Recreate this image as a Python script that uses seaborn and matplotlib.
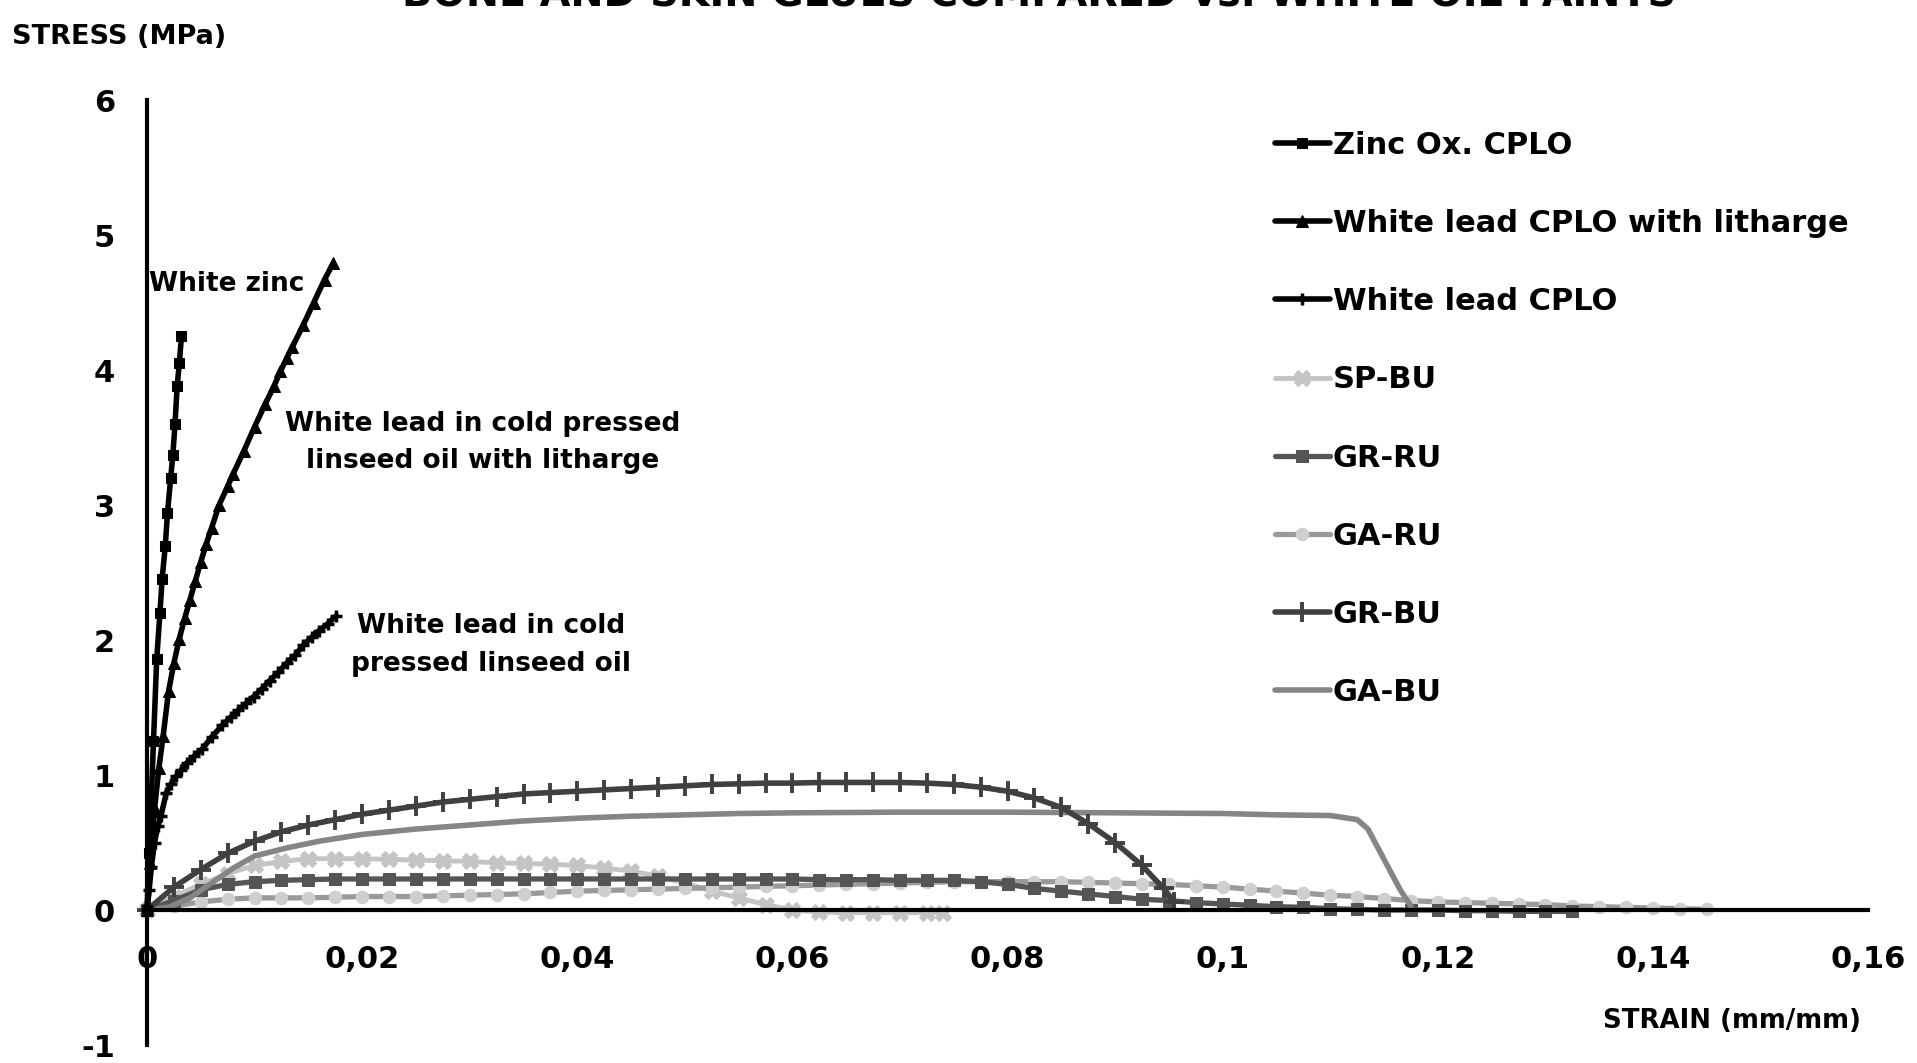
import numpy as np
import pandas as pd
import matplotlib
matplotlib.use("Agg")
import matplotlib.pyplot as plt
import seaborn as sns

# ---- data: strain (mm/mm) and stress (MPa) ----
zinc_strain = [0, 0.0002, 0.0004, 0.0006, 0.0009, 0.0012, 0.0014, 0.0017, 0.0019,
               0.0022, 0.0024, 0.0026, 0.0028, 0.0030, 0.0032]
zinc_stress = [0, 0.42, 0.84, 1.25, 1.86, 2.20, 2.45, 2.70, 2.94,
               3.20, 3.37, 3.60, 3.88, 4.05, 4.25]

lith_strain = [0, 0.0003, 0.0007, 0.0011, 0.0015, 0.002, 0.0025, 0.003, 0.0035, 0.004,
               0.0045, 0.005, 0.0055, 0.006, 0.0067, 0.0075, 0.008, 0.009, 0.010, 0.011,
               0.0118, 0.0124, 0.013, 0.0135, 0.0145, 0.0155, 0.0165, 0.0173]
lith_stress = [0, 0.35, 0.75, 1.05, 1.29, 1.62, 1.83, 2.01, 2.16, 2.30,
               2.44, 2.58, 2.71, 2.83, 3.00, 3.14, 3.23, 3.40, 3.58, 3.75,
               3.88, 3.99, 4.09, 4.17, 4.33, 4.50, 4.67, 4.79]

wl_strain = [0, 0.0002, 0.0004, 0.0007, 0.0010, 0.0013, 0.0018, 0.0022, 0.0027, 0.0032,
             0.0037, 0.0044, 0.0051, 0.0060, 0.0070, 0.0078, 0.0085, 0.0092, 0.0099, 0.0107,
             0.0114, 0.0122, 0.0130, 0.0138, 0.0145, 0.0153, 0.0160, 0.0168, 0.0176]
wl_stress = [0, 0.15, 0.32, 0.50, 0.62, 0.70, 0.87, 0.93, 0.99, 1.04,
             1.09, 1.14, 1.19, 1.28, 1.37, 1.43, 1.48, 1.53, 1.58, 1.64,
             1.70, 1.76, 1.83, 1.89, 1.96, 2.02, 2.07, 2.12, 2.18]

spbu_strain = [0, 0.0025, 0.005, 0.0075, 0.010, 0.0125, 0.015, 0.0175, 0.020, 0.0225,
               0.025, 0.0275, 0.030, 0.0325, 0.035, 0.0375, 0.040, 0.0425, 0.045, 0.0475,
               0.050, 0.0525, 0.055, 0.0575, 0.060, 0.0625, 0.065, 0.0675, 0.070, 0.0725, 0.074]
spbu_stress = [0, 0.10, 0.19, 0.27, 0.33, 0.36, 0.38, 0.38, 0.38, 0.375,
               0.37, 0.365, 0.36, 0.35, 0.345, 0.34, 0.33, 0.31, 0.29, 0.25,
               0.20, 0.14, 0.09, 0.04, 0.00, -0.015, -0.02, -0.02, -0.02, -0.02, -0.02]

grru_strain = [0, 0.0025, 0.005, 0.0075, 0.010, 0.0125, 0.015, 0.0175, 0.020, 0.0225,
               0.025, 0.0275, 0.030, 0.0325, 0.035, 0.0375, 0.040, 0.0425, 0.045, 0.0475,
               0.050, 0.0525, 0.055, 0.0575, 0.060, 0.0625, 0.065, 0.0675, 0.070, 0.0725,
               0.075, 0.0775, 0.080, 0.0825, 0.085, 0.0875, 0.090, 0.0925, 0.095, 0.0975,
               0.100, 0.1025, 0.105, 0.1075, 0.110, 0.1125, 0.115, 0.1175, 0.120, 0.1225,
               0.125, 0.1275, 0.130, 0.1325]
grru_stress = [0, 0.07, 0.15, 0.19, 0.21, 0.22, 0.225, 0.23, 0.23, 0.23,
               0.23, 0.23, 0.23, 0.23, 0.23, 0.23, 0.23, 0.23, 0.23, 0.23,
               0.23, 0.23, 0.23, 0.23, 0.23, 0.225, 0.225, 0.225, 0.22, 0.22,
               0.22, 0.21, 0.19, 0.16, 0.14, 0.12, 0.10, 0.08, 0.07, 0.055,
               0.045, 0.035, 0.025, 0.02, 0.01, 0.005, 0.0, 0.0, 0.0, -0.005,
               -0.005, -0.01, -0.01, -0.01]

garu_strain = [0, 0.0025, 0.005, 0.0075, 0.010, 0.0125, 0.015, 0.0175, 0.020, 0.0225,
               0.025, 0.0275, 0.030, 0.0325, 0.035, 0.0375, 0.040, 0.0425, 0.045, 0.0475,
               0.050, 0.0525, 0.055, 0.0575, 0.060, 0.0625, 0.065, 0.0675, 0.070, 0.0725,
               0.075, 0.0775, 0.080, 0.0825, 0.085, 0.0875, 0.090, 0.0925, 0.095, 0.0975,
               0.100, 0.1025, 0.105, 0.1075, 0.110, 0.1125, 0.115, 0.1175, 0.120, 0.1225,
               0.125, 0.1275, 0.130, 0.1325, 0.135, 0.1375, 0.140, 0.1425, 0.145]
garu_stress = [0, 0.03, 0.06, 0.08, 0.09, 0.09, 0.09, 0.095, 0.10, 0.10,
               0.10, 0.105, 0.11, 0.115, 0.12, 0.13, 0.14, 0.145, 0.15, 0.155,
               0.16, 0.165, 0.17, 0.175, 0.18, 0.185, 0.19, 0.195, 0.20, 0.205,
               0.21, 0.21, 0.21, 0.21, 0.21, 0.205, 0.20, 0.195, 0.19, 0.18,
               0.17, 0.155, 0.14, 0.125, 0.11, 0.10, 0.085, 0.07, 0.06, 0.055,
               0.05, 0.045, 0.04, 0.03, 0.025, 0.02, 0.015, 0.01, 0.005]

grbu_strain = [0, 0.0025, 0.005, 0.0075, 0.010, 0.0125, 0.015, 0.0175, 0.020, 0.0225,
               0.025, 0.0275, 0.030, 0.0325, 0.035, 0.0375, 0.040, 0.0425, 0.045, 0.0475,
               0.050, 0.0525, 0.055, 0.0575, 0.060, 0.0625, 0.065, 0.0675, 0.070, 0.0725,
               0.075, 0.0775, 0.080, 0.0825, 0.085, 0.0875, 0.090, 0.0925, 0.0945, 0.0955]
grbu_stress = [0, 0.17, 0.30, 0.42, 0.51, 0.58, 0.63, 0.67, 0.71, 0.74,
               0.77, 0.80, 0.82, 0.84, 0.86, 0.87, 0.88, 0.89, 0.90, 0.91,
               0.92, 0.93, 0.935, 0.94, 0.94, 0.945, 0.945, 0.945, 0.945, 0.94,
               0.93, 0.91, 0.88, 0.83, 0.76, 0.64, 0.50, 0.33, 0.16, 0.06]

gabu_strain = [0, 0.002, 0.004, 0.006, 0.008, 0.010, 0.013, 0.016, 0.020, 0.025,
               0.030, 0.035, 0.040, 0.045, 0.050, 0.055, 0.060, 0.070, 0.080, 0.090,
               0.100, 0.105, 0.110, 0.1125, 0.1135, 0.1145, 0.1155, 0.1165, 0.1175]
gabu_stress = [0, 0.02, 0.09, 0.20, 0.31, 0.40, 0.46, 0.51, 0.56, 0.60,
               0.63, 0.66, 0.68, 0.695, 0.705, 0.715, 0.72, 0.725, 0.725, 0.72,
               0.715, 0.705, 0.70, 0.67, 0.60, 0.45, 0.30, 0.15, 0.03]

x_ticks = [0, 0.02, 0.04, 0.06, 0.08, 0.10, 0.12, 0.14, 0.16]
x_tick_labels = ["0", "0,02", "0,04", "0,06", "0,08", "0,1", "0,12", "0,14", "0,16"]
y_ticks = [-1, 0, 1, 2, 3, 4, 5, 6]
y_tick_labels = ["-1", "0", "1", "2", "3", "4", "5", "6"]

# ---- style ----
sns.set_style("white")
W = "bold"
plt.rcParams["font.family"] = ["DejaVu Sans"]
plt.rcParams["font.weight"] = W
plt.rcParams["text.color"] = "black"
plt.rcParams["xtick.color"] = "black"
plt.rcParams["ytick.color"] = "black"
plt.rcParams["axes.unicode_minus"] = False

fig = plt.figure(figsize=(19.17, 10.63), dpi=100)
ax = fig.add_axes([0.0767, 0.0169, 0.8978, 0.889])

series = [
    ("Zinc Ox. CPLO", zinc_strain, zinc_stress,
     dict(color="black", marker="s", markersize=7, lw=4.0, mfc="black", mec="black")),
    ("White lead CPLO with litharge", lith_strain, lith_stress,
     dict(color="black", marker="^", markersize=8, lw=4.0, mfc="black", mec="black")),
    ("White lead CPLO", wl_strain, wl_stress,
     dict(color="black", marker="+", markersize=9, lw=4.0, mfc="black", mec="black", mew=2.5)),
    ("SP-BU", spbu_strain, spbu_stress,
     dict(color="#c4c4c4", marker="X", markersize=11, lw=3.5, mfc="#c4c4c4", mec="#c4c4c4")),
    ("GR-RU", grru_strain, grru_stress,
     dict(color="#555555", marker="s", markersize=8, lw=3.8, mfc="#555555", mec="#555555")),
    ("GA-RU", garu_strain, garu_stress,
     dict(color="#9a9a9a", marker="o", markersize=9, lw=3.8, mfc="#cfcfcf", mec="#cfcfcf")),
    ("GR-BU", grbu_strain, grbu_stress,
     dict(color="#404040", marker="+", markersize=14, lw=4.0, mfc="#404040", mec="#404040", mew=2.8)),
    ("GA-BU", gabu_strain, gabu_stress,
     dict(color="#858585", marker=None, lw=4.0)),
]

# lightest curves go down first so the black curves stay on top
draw_order = [3, 5, 4, 7, 6, 2, 1, 0]
for i in draw_order:
    name, xs, ys, st = series[i]
    df = pd.DataFrame({"strain": xs, "stress": ys})
    kw = dict(st)
    lw = kw.pop("lw")
    sns.lineplot(data=df, x="strain", y="stress", ax=ax, sort=False, estimator=None,
                 linewidth=lw, label=name, **kw)

# ---- axes ----
ax.set_xlim(0, 0.16)
ax.set_ylim(-1, 6)
ax.set_xticks(x_ticks)
ax.set_xticklabels(x_tick_labels)
ax.set_yticks(y_ticks)
ax.set_yticklabels(y_tick_labels)
ax.set_xlabel("")
ax.set_ylabel("")
for s in ["top", "right"]:
    ax.spines[s].set_visible(False)
ax.spines["bottom"].set_position(("data", 0))
for s in ["left", "bottom"]:
    ax.spines[s].set_linewidth(3)
    ax.spines[s].set_color("black")
ax.tick_params(axis="both", direction="out", length=11, width=3, color="black",
               labelsize=22)
ax.tick_params(axis="x", pad=14)
ax.tick_params(axis="y", pad=12)
for lab in ax.get_xticklabels() + ax.get_yticklabels():
    lab.set_fontweight(W)
for ln in ax.get_lines():
    ln.set_clip_on(False)

# ---- legend ----
hl, ll = ax.get_legend_handles_labels()
lookup = dict(zip(ll, hl))
names = [s[0] for s in series]
leg = ax.legend([lookup[n] for n in names], names, loc="upper left",
                bbox_to_anchor=(0.665, 0.877), bbox_transform=fig.transFigure,
                frameon=False, fontsize=22, handlelength=1.8, handletextpad=0.1,
                labelspacing=1.61, borderpad=0, borderaxespad=0)
for t in leg.get_texts():
    t.set_fontweight(W)

# ---- annotations ----
ax.text(0.0002, 4.64, "White zinc", fontsize=19, fontweight=W, ha="left", va="center")
ax.text(0.0312, 3.46, "White lead in cold pressed\nlinseed oil with litharge",
        fontsize=19, fontweight=W, ha="center", va="center", linespacing=1.55)
ax.text(0.0320, 1.96, "White lead in cold\npressed linseed oil",
        fontsize=19, fontweight=W, ha="center", va="center", linespacing=1.6)

# ---- titles ----
fig.text(0.542, 0.985, "BONE AND SKIN GLUES COMPARED vs. WHITE OIL PAINTS",
         fontsize=28.5, fontweight=W, ha="center", va="bottom")
fig.text(0.006, 0.965, "STRESS (MPa)", fontsize=19.5, fontweight=W, ha="left", va="center")
fig.text(0.971, 0.0395, "STRAIN (mm/mm)", fontsize=18.7, fontweight=W, ha="right", va="center")

fig.savefig("out.png", dpi=100)
